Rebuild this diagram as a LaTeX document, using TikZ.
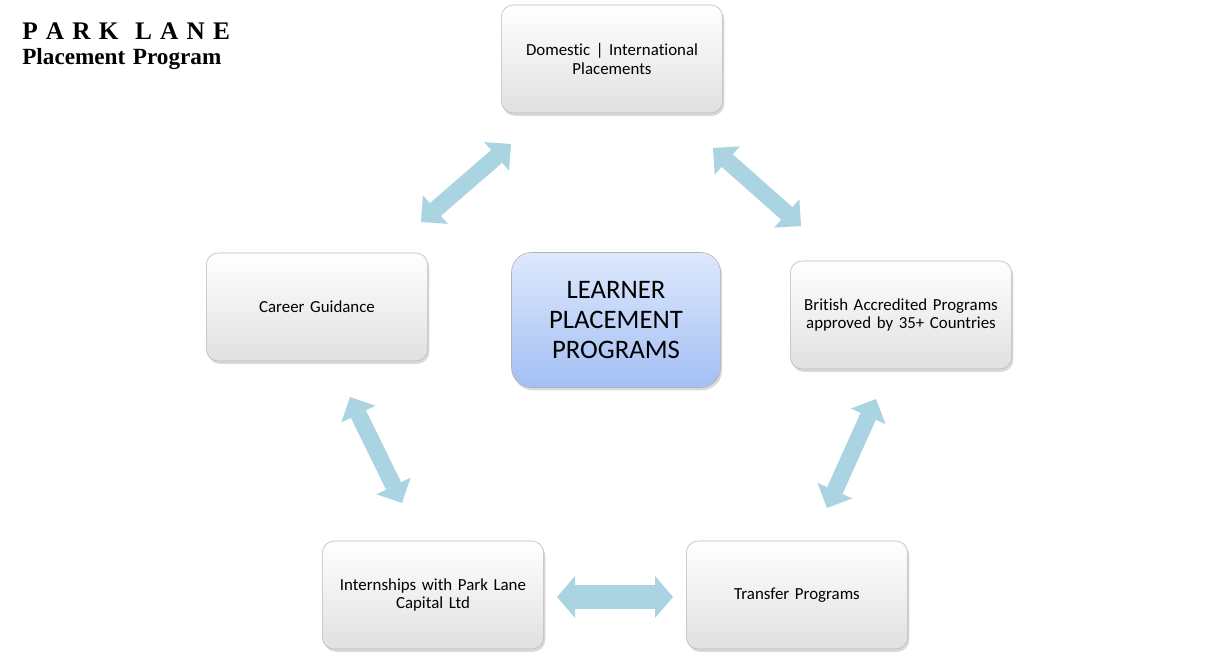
\documentclass[tikz,border=0pt]{standalone}
\usepackage{fontspec}
\setmainfont{Carlito}[Ligatures=NoCommon]
\newfontfamily\brandfont[WordSpace=1.3]{Liberation Serif}
\usetikzlibrary{arrows.meta,shadows}
\definecolor{linkblue}{RGB}{170,212,226}
\definecolor{hubtop}{RGB}{222,232,253}
\definecolor{hubbot}{RGB}{163,191,243}
\tikzset{
  box/.style={draw=gray!55, rounded corners=0.3cm, top color=white, bottom color=gray!24,
    minimum width=5.475cm, minimum height=2.7cm, align=center, text width=5.3cm,
    font=\fontsize{12}{13.5}\selectfont,
    drop shadow={opacity=0.3, shadow xshift=0.04cm, shadow yshift=-0.07cm}},
  hub/.style={draw=gray!60, rounded corners=0.5cm, top color=hubtop, bottom color=hubbot,
    minimum width=5.225cm, minimum height=3.375cm, align=center,
    font=\fontsize{19}{21}\selectfont,
    drop shadow={opacity=0.3, shadow xshift=0.04cm, shadow yshift=-0.07cm}},
  link/.style={linkblue, line width=0.42cm,
    {Triangle[length=0.475cm,width=0.95cm,line width=0pt]}-{Triangle[length=0.475cm,width=0.95cm,line width=0pt]}},
  widelink/.style={link, line width=0.6cm,
    {Triangle[length=0.45cm,width=1.05cm,line width=0pt]}-{Triangle[length=0.45cm,width=1.05cm,line width=0pt]}}
}
\begin{document}
\begin{tikzpicture}[x=0.025cm, y=-0.025cm]
\useasboundingbox (0,0) rectangle (1224,668);
% heading
\node[anchor=base west, inner sep=0, font=\brandfont\bfseries\fontsize{18}{20}\selectfont] (brand) at (22,40) {P A R K~~L A N E};
\node[anchor=base west, inner sep=0, font=\brandfont\bfseries\fontsize{16.5}{18}\selectfont] (tagline) at (22,65) {Placement Program};
% boxes
\node[box] (domestic) at (612,59) {Domestic | International\\Placements};
\node[box] (career) at (317,307) {Career Guidance};
\node[hub] (learner) at (616,320) {LEARNER\\PLACEMENT\\PROGRAMS};
\node[box] (british) at (901,315) {British Accredited Programs\\approved by 35+ Countries};
\node[box] (intern) at (433,595) {Internships with Park Lane\\Capital Ltd};
\node[box] (transfer) at (797,595) {Transfer Programs};
% arrow ends
\coordinate (tl1) at (421,222); \coordinate (tl2) at (511,144);
\coordinate (tr1) at (713,148); \coordinate (tr2) at (801,226);
\coordinate (l1) at (350,397);  \coordinate (l2) at (402,503);
\coordinate (r1) at (876,399);  \coordinate (r2) at (827,508);
\coordinate (b1) at (557,597);  \coordinate (b2) at (673,597);
\draw[link] (tl1) -- (tl2);
\draw[link] (tr1) -- (tr2);
\draw[link] (l1) -- (l2);
\draw[link] (r1) -- (r2);
\draw[widelink] (b1) -- (b2);
\end{tikzpicture}
\end{document}
